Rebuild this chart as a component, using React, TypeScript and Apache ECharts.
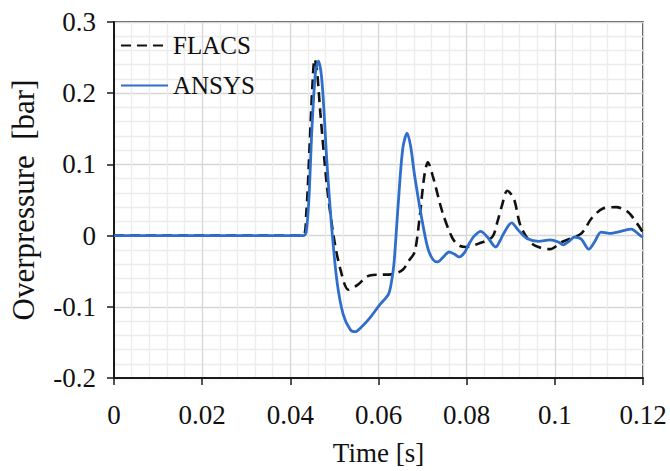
import React, { useEffect, useRef } from "react";
import * as echarts from "echarts";

const flacsTime = [0, 0.0428, 0.0436, 0.0444, 0.045, 0.0455, 0.046, 0.0468, 0.0483, 0.0498, 0.0513, 0.0532, 0.0551, 0.058, 0.0633, 0.0655, 0.0668, 0.0682, 0.0693, 0.0704, 0.0712, 0.0723, 0.0745, 0.0768, 0.0783, 0.0798, 0.0828, 0.0858, 0.087, 0.088, 0.0892, 0.0907, 0.0922, 0.0944, 0.0963, 0.0989, 0.1016, 0.106, 0.1083, 0.1109, 0.1139, 0.1166, 0.119, 0.12];
const flacsValues = [0, 0, 0.03, 0.13, 0.21, 0.248, 0.235, 0.173, 0.07, 0, -0.046, -0.076, -0.07, -0.056, -0.054, -0.048, -0.036, -0.023, 0.024, 0.084, 0.103, 0.084, 0.033, -0.004, -0.014, -0.016, -0.011, -0.002, 0.02, 0.042, 0.063, 0.052, 0.014, -0.009, -0.016, -0.019, -0.009, 0.003, 0.024, 0.038, 0.04, 0.033, 0.014, 0.004];

const ansysTime = [0, 0.043, 0.0436, 0.0442, 0.0449, 0.0457, 0.0464, 0.0472, 0.0483, 0.0494, 0.0506, 0.052, 0.0536, 0.0547, 0.0562, 0.058, 0.0603, 0.0622, 0.0628, 0.0635, 0.0644, 0.0655, 0.0665, 0.0673, 0.0682, 0.0697, 0.0712, 0.0724, 0.0734, 0.0747, 0.076, 0.0772, 0.0783, 0.0795, 0.0806, 0.0818, 0.0832, 0.0847, 0.0866, 0.0875, 0.0884, 0.0902, 0.0918, 0.0937, 0.0963, 0.0989, 0.1008, 0.1019, 0.1032, 0.1045, 0.106, 0.1077, 0.109, 0.1105, 0.1124, 0.115, 0.1173, 0.1194, 0.12];
const ansysValues = [0, 0, 0.005, 0.05, 0.15, 0.229, 0.245, 0.215, 0.103, 0.01, -0.065, -0.111, -0.132, -0.135, -0.128, -0.116, -0.097, -0.083, -0.07, -0.04, 0.038, 0.122, 0.144, 0.125, 0.084, 0.028, -0.018, -0.034, -0.037, -0.03, -0.023, -0.026, -0.03, -0.024, -0.011, 0, 0.006, -0.002, -0.016, -0.008, 0.003, 0.018, 0.007, -0.004, -0.008, -0.006, -0.009, -0.013, -0.008, -0.002, -0.005, -0.019, -0.009, 0.005, 0.003, 0.006, 0.009, 0, -0.002];

const seriesNames = ["FLACS", "ANSYS"];
const xLabelTitle = "Time [s]";
const yLabelTitle = "Overpressure\u00A0 [bar]";

const FONT = "'Liberation Serif', 'Times New Roman', Times, serif";

function fmt(v: number) {
  return String(parseFloat(v.toFixed(4)));
}

export default function App() {
  const ref = useRef<HTMLDivElement>(null);
  useEffect(() => {
    if (!ref.current) return;
    const chart = echarts.init(ref.current, undefined, { renderer: "svg" });
    const flacsData = flacsTime.map((t, i) => [t, flacsValues[i]]);
    const ansysData = ansysTime.map((t, i) => [t, ansysValues[i]]);
    const txt = (size: number) => ({ fontFamily: FONT, fontSize: size, color: "#111", fontWeight: "normal" as const });
    chart.setOption({
      animation: false,
      backgroundColor: "#ffffff",
      textStyle: { fontFamily: FONT },
      grid: {
        left: 112,
        right: 27,
        top: 22,
        bottom: 91,
        show: true,
        borderColor: "#1a1a1a",
        borderWidth: 1.5,
        backgroundColor: "transparent",
      },
      legend: {
        orient: "vertical",
        left: 115,
        top: 28,
        itemWidth: 47,
        itemHeight: 14,
        itemGap: 15,
        data: seriesNames,
        itemStyle: { opacity: 0 },
        textStyle: txt(25),
        backgroundColor: "transparent",
      },
      xAxis: {
        type: "value",
        min: 0,
        max: 0.12,
        interval: 0.02,
        name: xLabelTitle,
        nameLocation: "middle",
        nameGap: 61,
        nameTextStyle: txt(27),
        axisLine: { show: true, onZero: false, lineStyle: { color: "#1a1a1a", width: 2 } },
        axisTick: { show: true, length: 7, lineStyle: { color: "#1a1a1a", width: 1.5 } },
        axisLabel: { ...txt(27), margin: 23, formatter: fmt },
        splitLine: { show: true, lineStyle: { color: "#d6d6d6", width: 1.3 } },
        minorTick: { show: false, splitNumber: 5 },
        minorSplitLine: { show: true, lineStyle: { color: "#ececec", width: 1.3 } },
      },
      yAxis: {
        type: "value",
        min: -0.2,
        max: 0.3,
        interval: 0.1,
        name: yLabelTitle,
        nameLocation: "middle",
        nameGap: 75,
        nameTextStyle: txt(31),
        axisLine: { show: true, onZero: false, lineStyle: { color: "#1a1a1a", width: 2 } },
        axisTick: { show: true, length: 7, lineStyle: { color: "#1a1a1a", width: 1.5 } },
        axisLabel: { ...txt(27), margin: 18, formatter: fmt },
        splitLine: { show: true, lineStyle: { color: "#d6d6d6", width: 1.3 } },
        minorTick: { show: false, splitNumber: 5 },
        minorSplitLine: { show: true, lineStyle: { color: "#ececec", width: 1.3 } },
      },
      series: [
        {
          name: seriesNames[0],
          type: "line",
          data: flacsData,
          symbol: "none",
          smooth: 0.3,
          z: 2,
          lineStyle: { color: "#111111", width: 2.6, type: [10, 6] },
          itemStyle: { color: "#111111" },
        },
        {
          name: seriesNames[1],
          type: "line",
          data: ansysData,
          symbol: "none",
          smooth: 0.3,
          z: 3,
          lineStyle: { color: "#2f6fcb", width: 2.8 },
          itemStyle: { color: "#2f6fcb" },
        },
      ],
    });
    return () => chart.dispose();
  }, []);
  return (
    <div
      ref={ref}
      style={{ position: "fixed", left: 0, top: 0, width: 670, height: 471 }}
    />
  );
}
